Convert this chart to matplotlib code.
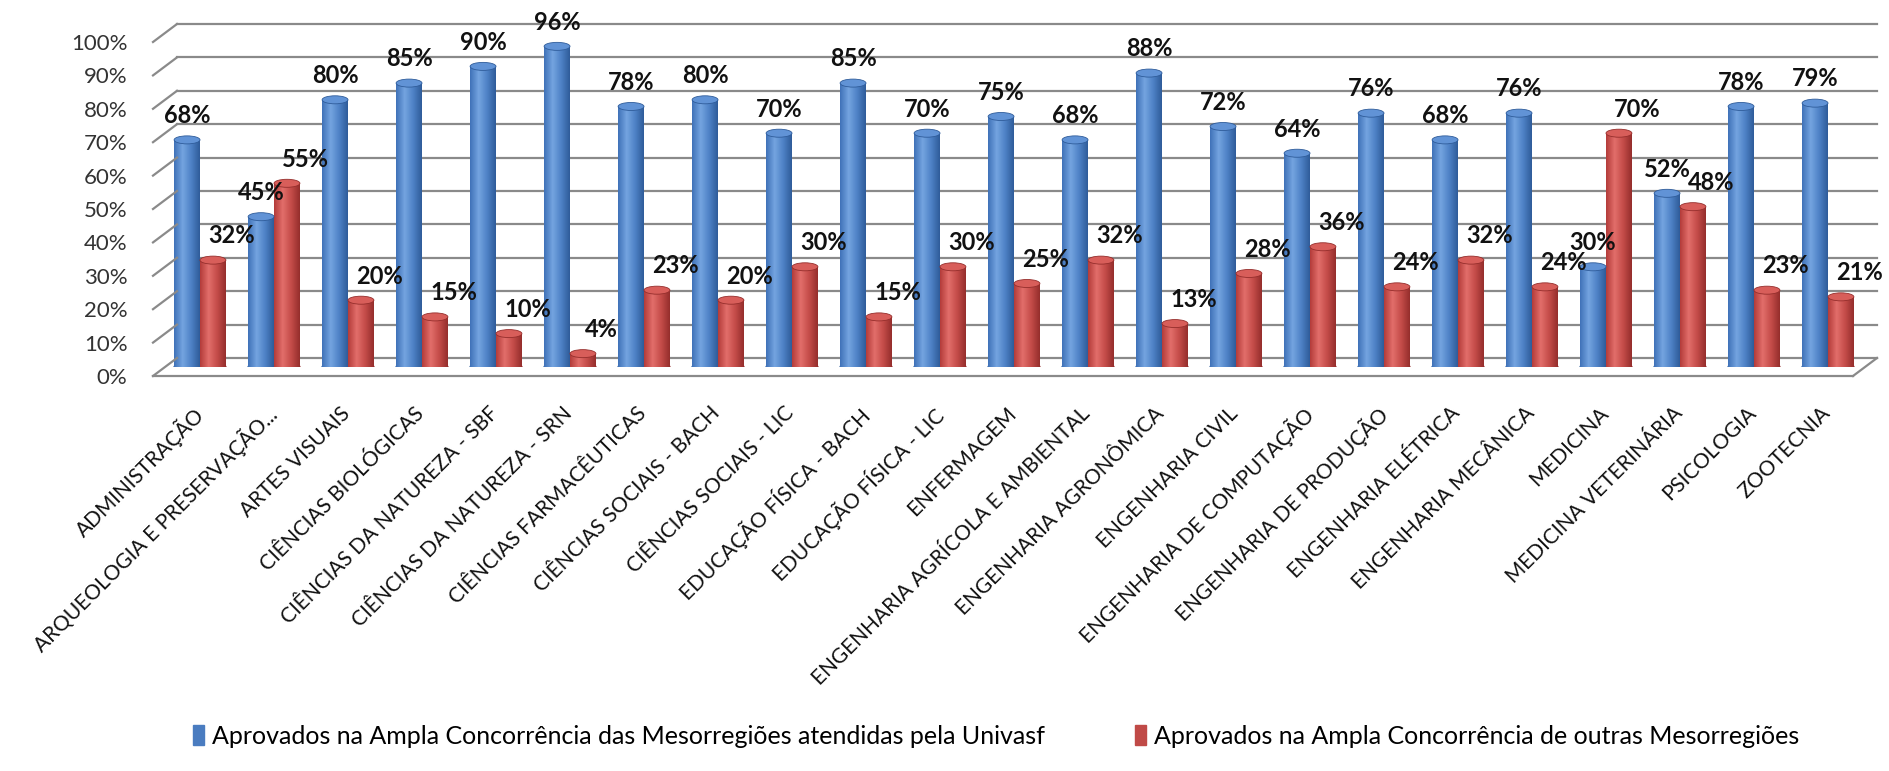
import numpy as np
import matplotlib
matplotlib.use("Agg")
import matplotlib.pyplot as plt
import matplotlib.transforms as mtransforms
from matplotlib.patches import Ellipse
from matplotlib.lines import Line2D
from matplotlib.colors import LinearSegmentedColormap

plt.rcParams['font.family'] = ['Lato', 'DejaVu Sans']

# dados
cursos = ['ADMINISTRAÇÃO', 'ARQUEOLOGIA E PRESERVAÇÃO...', 'ARTES VISUAIS',
          'CIÊNCIAS BIOLÓGICAS', 'CIÊNCIAS DA NATUREZA - SBF', 'CIÊNCIAS DA NATUREZA - SRN',
          'CIÊNCIAS FARMACÊUTICAS', 'CIÊNCIAS SOCIAIS - BACH', 'CIÊNCIAS SOCIAIS - LIC',
          'EDUCAÇÃO FÍSICA - BACH', 'EDUCAÇÃO FÍSICA - LIC', 'ENFERMAGEM',
          'ENGENHARIA AGRÍCOLA E AMBIENTAL', 'ENGENHARIA AGRONÔMICA', 'ENGENHARIA CIVIL',
          'ENGENHARIA DE COMPUTAÇÃO', 'ENGENHARIA DE PRODUÇÃO', 'ENGENHARIA ELÉTRICA',
          'ENGENHARIA MECÂNICA', 'MEDICINA', 'MEDICINA VETERINÁRIA', 'PSICOLOGIA', 'ZOOTECNIA']
univasf = [68, 45, 80, 85, 90, 96, 78, 80, 70, 85, 70, 75, 68, 88, 72, 64, 76, 68, 76, 30, 52, 78, 79]
outras = [32, 55, 20, 15, 10, 4, 23, 20, 30, 15, 30, 25, 32, 13, 28, 36, 24, 32, 24, 70, 48, 23, 21]
serie1 = 'Aprovados na Ampla Concorrência das Mesorregiões atendidas pela Univasf'
serie2 = 'Aprovados na Ampla Concorrência de outras Mesorregiões'

W, H = 1890, 771
fig = plt.figure(figsize=(W / 100, H / 100), dpi=100)
ax = fig.add_axes([165 / W, (H - 367) / H, 1700 / W, 334 / H])
ax.set_xlim(-0.473, 22.5)
ax.set_ylim(0, 100)
for s in ax.spines.values():
    s.set_visible(False)

# planos de fundo e frente (efeito 3D)
back = mtransforms.offset_copy(ax.transData, fig=fig, x=12, y=9, units='dots')
front = mtransforms.offset_copy(ax.transData, fig=fig, x=-12, y=-9, units='dots')
xl, xr = ax.get_xlim()
grid_c = '#8a8a8a'
for v in range(0, 101, 10):
    ax.plot([xl, xr], [v, v], color=grid_c, lw=1.6, transform=back, clip_on=False, zorder=0)
    pf = front.transform((xl, v))
    pb = back.transform((xl, v))
    fig.add_artist(Line2D([pf[0], pb[0]], [pf[1], pb[1]], color=grid_c, lw=1.6,
                          transform=mtransforms.IdentityTransform()))
ax.plot([xl, xr], [0, 0], color=grid_c, lw=1.6, transform=front, clip_on=False, zorder=0)
pf = front.transform((xr, 0))
pb = back.transform((xr, 0))
fig.add_artist(Line2D([pf[0], pb[0]], [pf[1], pb[1]], color=grid_c, lw=1.6,
                      transform=mtransforms.IdentityTransform()))

# cilindros
x = np.arange(len(cursos))
bw = 0.35
cmap_azul = LinearSegmentedColormap.from_list('az', ['#3f72b8', '#74a4e0', '#4e82c6', '#2f5c9a'])
cmap_verm = LinearSegmentedColormap.from_list('vm', ['#b43c3a', '#e26e6a', '#c44c49', '#952e2c'])
grad = np.linspace(0, 1, 64).reshape(1, -1)


def cilindros(pos, vals, cmap, topo, base, nome):
    bars = ax.bar(pos, vals, width=bw, color='none', label=nome, zorder=3)
    for b in bars:
        x0, w, h = b.get_x(), b.get_width(), b.get_height()
        ax.add_patch(Ellipse((x0 + w / 2, 0), w, 2.2, color=base, zorder=2))
        im = ax.imshow(grad, cmap=cmap, aspect='auto', extent=(x0, x0 + w, 0, h), zorder=3)
        im.set_clip_path(b)
        ax.add_patch(Ellipse((x0 + w / 2, h), w, 2.4, facecolor=topo, edgecolor=base,
                             lw=0.6, zorder=4))
    return bars


b1 = cilindros(x - bw / 2, univasf, cmap_azul, '#6193d6', '#2f5c9a', serie1)
b2 = cilindros(x + bw / 2, outras, cmap_verm, '#d85e5a', '#952e2c', serie2)
ax.set_xlim(xl, xr)
ax.set_ylim(0, 100)

for xi, v in zip(x - bw / 2, univasf):
    ax.text(xi, v + 3.8, f'{v}%', ha='center', va='bottom', fontsize=17, fontweight='bold',
            color='#111111', zorder=6)
for xi, v in zip(x + bw / 2, outras):
    ax.text(xi + 0.25, v + 3.8, f'{v}%', ha='center', va='bottom', fontsize=17, fontweight='bold',
            color='#111111', zorder=6)

# eixos
ax.set_yticks(range(0, 101, 10))
ax.set_yticklabels([f'{v}%' for v in range(0, 101, 10)], fontsize=16, color='#333333')
ax.tick_params(axis='y', length=0, pad=27)
for lab in ax.get_yticklabels():
    lab.set_transform(lab.get_transform() + mtransforms.ScaledTranslation(0, -0.09, fig.dpi_scale_trans))

ax.set_xticks(x)
ax.set_xticklabels(cursos, rotation=45, ha='right', va='top', rotation_mode='anchor',
                   fontsize=15, color='#111111')
ax.tick_params(axis='x', length=0, pad=26)
for lab in ax.get_xticklabels():
    lab.set_transform(lab.get_transform() + mtransforms.ScaledTranslation(-0.08, 0, fig.dpi_scale_trans))

h1 = plt.Rectangle((0, 0), 1, 1, color='#4a7cc0')
h2 = plt.Rectangle((0, 0), 1, 1, color='#c04a47')
fig.legend([h1, h2], [serie1, serie2], loc='center', bbox_to_anchor=(0.527, 1 - 736 / H),
           ncol=2, frameon=False, fontsize=18, handlelength=0.45, handleheight=0.9,
           handletextpad=0.3, columnspacing=3.6)

fig.savefig('out.png', dpi=100)
